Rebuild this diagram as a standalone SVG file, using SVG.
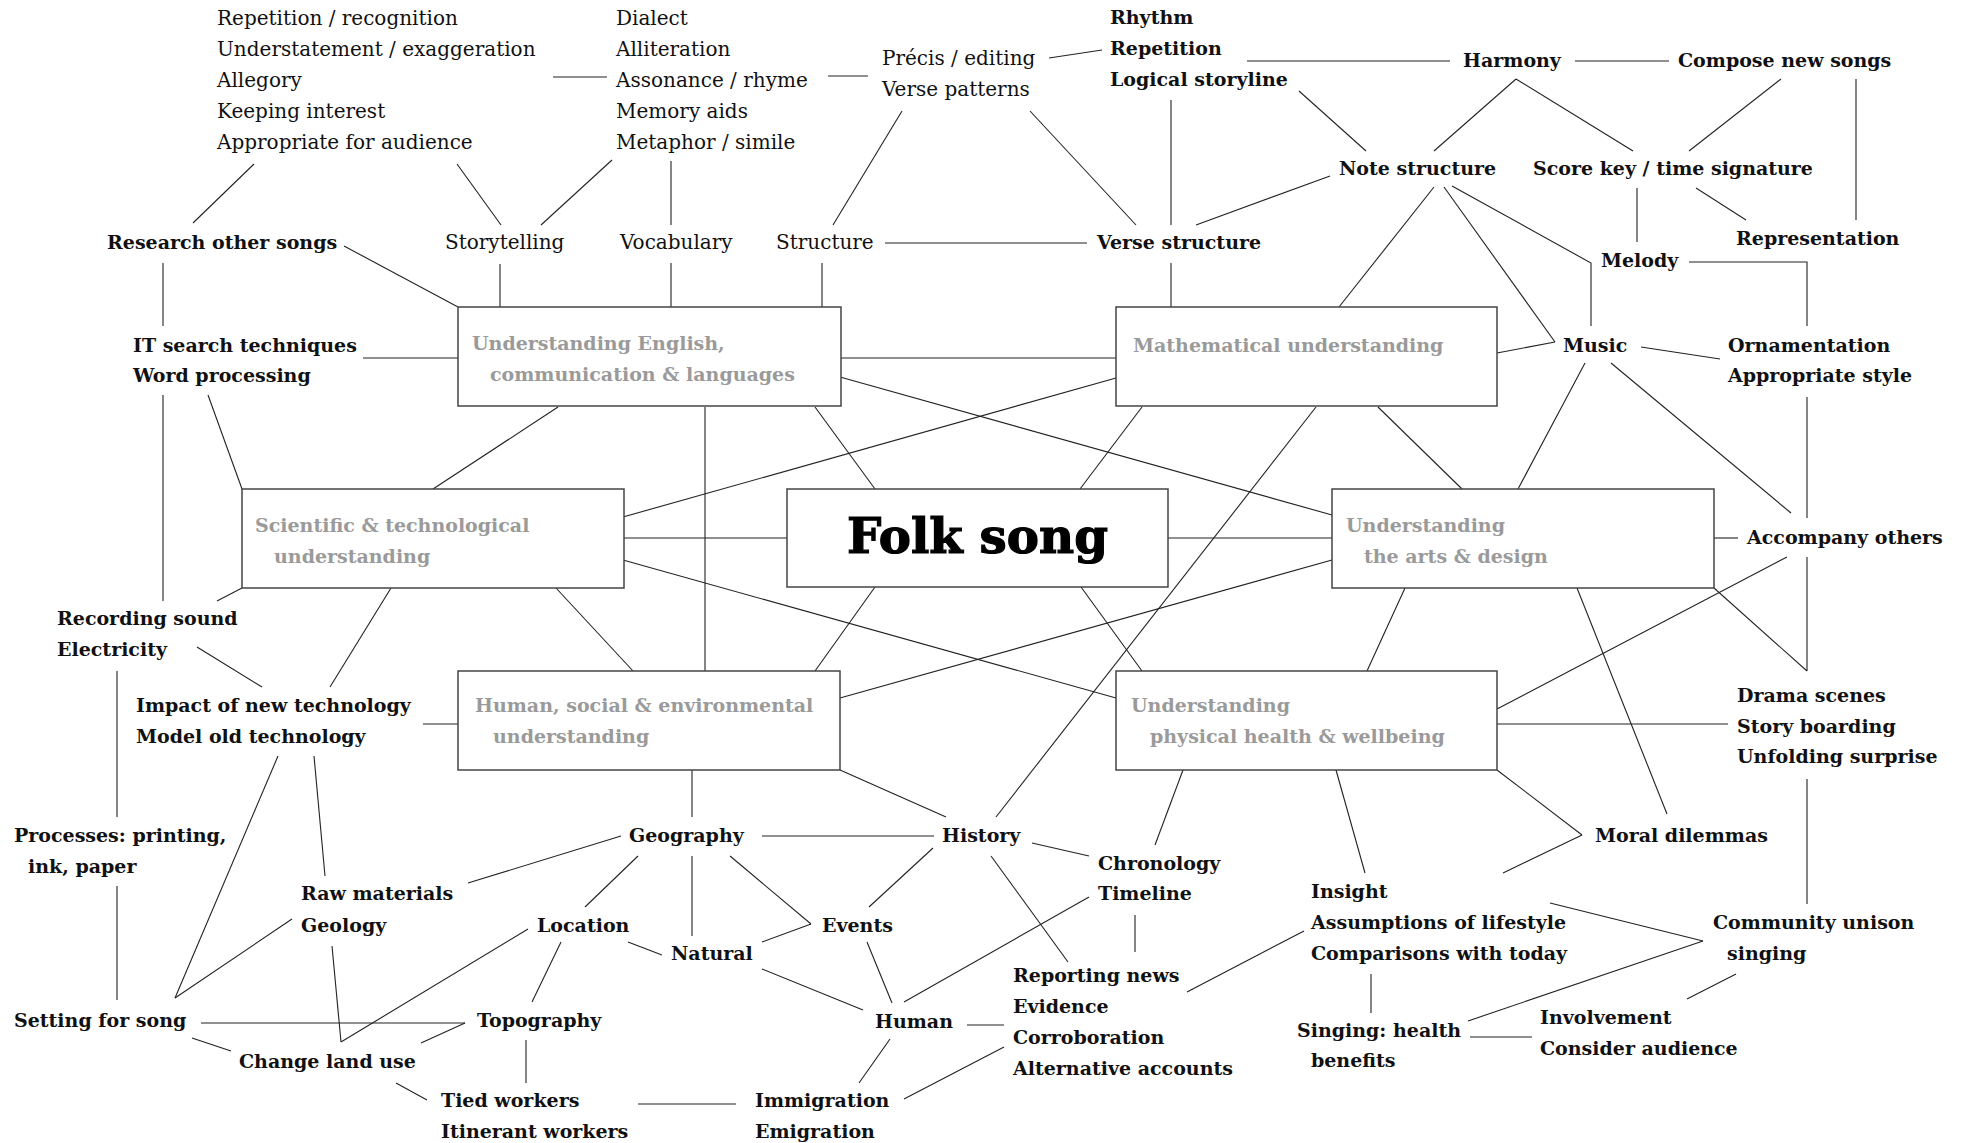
<svg xmlns="http://www.w3.org/2000/svg" width="1966" height="1143" viewBox="0 0 1966 1143">
<style>
text{font-family:"DejaVu Serif","Liberation Serif",serif;font-size:20px;fill:#111}
.b{font-weight:bold;font-size:19px}
.g{font-weight:bold;fill:#9a9a9a;font-size:19px}
.big{font-weight:900;font-size:48px;fill:#000;stroke:#000;stroke-width:1.2}
.box{fill:#fff;stroke:#444;stroke-width:1.5}
#connectors line,#connectors polyline{stroke:#222;stroke-width:1.1;fill:none}
</style>
<rect width="1966" height="1143" fill="#fff"/>
<g id="connectors">
<line x1="553" y1="77" x2="607" y2="77"/>
<line x1="828" y1="76" x2="868" y2="76"/>
<line x1="1049" y1="58" x2="1102" y2="50"/>
<line x1="1247" y1="61" x2="1450" y2="61"/>
<line x1="1575" y1="61" x2="1669" y2="61"/>
<line x1="1516" y1="79" x2="1434" y2="151"/>
<line x1="1516" y1="79" x2="1633" y2="151"/>
<line x1="1781" y1="79" x2="1689" y2="151"/>
<line x1="1856" y1="79" x2="1856" y2="220"/>
<line x1="1299" y1="91" x2="1366" y2="151"/>
<line x1="1196" y1="225" x2="1330" y2="176"/>
<line x1="1434" y1="187" x2="1339" y2="307"/>
<line x1="1444" y1="187" x2="1555" y2="342"/>
<line x1="1555" y1="342" x2="1497" y2="353"/>
<polyline points="1452,186 1591,263 1591,326"/>
<line x1="1637" y1="188" x2="1637" y2="242"/>
<line x1="1696" y1="188" x2="1746" y2="220"/>
<polyline points="1689,262 1807,262 1807,326"/>
<line x1="1641" y1="347" x2="1720" y2="359"/>
<line x1="1585" y1="363" x2="1518" y2="489"/>
<line x1="1611" y1="363" x2="1791" y2="513"/>
<line x1="1807" y1="397" x2="1807" y2="518"/>
<line x1="1714" y1="538" x2="1738" y2="538"/>
<line x1="1807" y1="557" x2="1807" y2="671"/>
<line x1="1714" y1="588" x2="1807" y2="671"/>
<line x1="1787" y1="557" x2="1497" y2="709"/>
<line x1="1577" y1="588" x2="1667" y2="814"/>
<line x1="1405" y1="588" x2="1367" y2="671"/>
<line x1="1378" y1="407" x2="1462" y2="489"/>
<line x1="1142" y1="407" x2="1080" y2="489"/>
<line x1="1316" y1="407" x2="996" y2="817"/>
<line x1="815" y1="407" x2="875" y2="489"/>
<line x1="705" y1="407" x2="705" y2="671"/>
<line x1="840" y1="358" x2="1116" y2="358"/>
<line x1="840" y1="377" x2="1332" y2="515"/>
<line x1="1116" y1="378" x2="623" y2="517"/>
<line x1="623" y1="538" x2="787" y2="538"/>
<line x1="1168" y1="538" x2="1332" y2="538"/>
<line x1="623" y1="560" x2="1116" y2="698"/>
<line x1="1332" y1="560" x2="840" y2="698"/>
<line x1="875" y1="587" x2="815" y2="671"/>
<line x1="1081" y1="587" x2="1142" y2="671"/>
<line x1="556" y1="588" x2="633" y2="671"/>
<line x1="433" y1="489" x2="558" y2="407"/>
<line x1="391" y1="588" x2="330" y2="687"/>
<line x1="208" y1="395" x2="242" y2="489"/>
<line x1="363" y1="358" x2="458" y2="358"/>
<line x1="163" y1="263" x2="163" y2="326"/>
<line x1="163" y1="395" x2="163" y2="601"/>
<line x1="242" y1="588" x2="217" y2="601"/>
<line x1="197" y1="647" x2="262" y2="687"/>
<line x1="117" y1="671" x2="117" y2="817"/>
<line x1="423" y1="724" x2="458" y2="724"/>
<line x1="117" y1="886" x2="117" y2="1000"/>
<line x1="278" y1="756" x2="175" y2="998"/>
<line x1="314" y1="756" x2="325" y2="876"/>
<line x1="292" y1="919" x2="175" y2="998"/>
<line x1="468" y1="883" x2="621" y2="836"/>
<line x1="638" y1="856" x2="585" y2="907"/>
<line x1="528" y1="929" x2="341" y2="1042"/>
<line x1="332" y1="946" x2="341" y2="1042"/>
<line x1="561" y1="942" x2="532" y2="1002"/>
<line x1="628" y1="942" x2="662" y2="955"/>
<line x1="201" y1="1023" x2="465" y2="1023"/>
<line x1="465" y1="1023" x2="421" y2="1043"/>
<line x1="192" y1="1038" x2="231" y2="1051"/>
<line x1="396" y1="1083" x2="427" y2="1100"/>
<line x1="526" y1="1040" x2="526" y2="1083"/>
<line x1="638" y1="1104" x2="736" y2="1104"/>
<line x1="762" y1="836" x2="934" y2="836"/>
<line x1="692" y1="770" x2="692" y2="817"/>
<line x1="840" y1="770" x2="946" y2="817"/>
<line x1="1183" y1="770" x2="1155" y2="845"/>
<line x1="1032" y1="843" x2="1089" y2="856"/>
<line x1="692" y1="856" x2="692" y2="936"/>
<line x1="730" y1="856" x2="811" y2="924"/>
<line x1="762" y1="942" x2="811" y2="924"/>
<line x1="933" y1="848" x2="869" y2="907"/>
<line x1="867" y1="942" x2="892" y2="1003"/>
<line x1="762" y1="969" x2="863" y2="1010"/>
<line x1="1089" y1="897" x2="904" y2="1002"/>
<line x1="991" y1="856" x2="1068" y2="962"/>
<line x1="1135" y1="915" x2="1135" y2="952"/>
<line x1="967" y1="1025" x2="1004" y2="1025"/>
<line x1="890" y1="1039" x2="859" y2="1083"/>
<line x1="1004" y1="1047" x2="904" y2="1099"/>
<line x1="1187" y1="992" x2="1304" y2="931"/>
<line x1="1497" y1="724" x2="1728" y2="724"/>
<line x1="1807" y1="779" x2="1807" y2="904"/>
<line x1="1336" y1="770" x2="1365" y2="873"/>
<line x1="1497" y1="770" x2="1582" y2="835"/>
<line x1="1582" y1="835" x2="1503" y2="873"/>
<line x1="1550" y1="903" x2="1703" y2="941"/>
<line x1="1703" y1="941" x2="1468" y2="1021"/>
<line x1="1371" y1="974" x2="1371" y2="1013"/>
<line x1="1470" y1="1037" x2="1532" y2="1037"/>
<line x1="1687" y1="999" x2="1736" y2="974"/>
<line x1="254" y1="164" x2="193" y2="223"/>
<line x1="457" y1="164" x2="501" y2="225"/>
<line x1="612" y1="160" x2="541" y2="225"/>
<line x1="671" y1="161" x2="671" y2="225"/>
<line x1="902" y1="111" x2="833" y2="225"/>
<line x1="1030" y1="111" x2="1136" y2="225"/>
<line x1="1171" y1="100" x2="1171" y2="225"/>
<line x1="885" y1="243" x2="1087" y2="243"/>
<line x1="1171" y1="263" x2="1171" y2="307"/>
<line x1="671" y1="263" x2="671" y2="307"/>
<line x1="822" y1="263" x2="822" y2="307"/>
<line x1="500" y1="264" x2="500" y2="307"/>
<line x1="344" y1="246" x2="458" y2="307"/>
</g>
<g id="b-english"><rect class="box" x="458" y="307" width="383" height="99"/><text class="g" x="472" y="350">Understanding English,</text><text class="g" x="490" y="381">communication &amp; languages</text></g>
<g id="b-math"><rect class="box" x="1116" y="307" width="381" height="99"/><text class="g" x="1133" y="352">Mathematical understanding</text></g>
<g id="b-science"><rect class="box" x="242" y="489" width="382" height="99"/><text class="g" x="255" y="532">Scientific &amp; technological</text><text class="g" x="274" y="563">understanding</text></g>
<g id="b-folk"><rect class="box" x="787" y="489" width="381" height="98"/><text class="big" x="847" y="553" textLength="261" lengthAdjust="spacingAndGlyphs">Folk song</text></g>
<g id="b-arts"><rect class="box" x="1332" y="489" width="382" height="99"/><text class="g" x="1346" y="532">Understanding</text><text class="g" x="1364" y="563">the arts &amp; design</text></g>
<g id="b-human"><rect class="box" x="458" y="671" width="382" height="99"/><text class="g" x="475" y="712">Human, social &amp; environmental</text><text class="g" x="493" y="743">understanding</text></g>
<g id="b-physical"><rect class="box" x="1116" y="671" width="381" height="99"/><text class="g" x="1131" y="712">Understanding</text><text class="g" x="1150" y="743">physical health &amp; wellbeing</text></g>

<g id="n-storytelling-list"><text x="217" y="25">Repetition / recognition</text><text x="217" y="56">Understatement / exaggeration</text><text x="217" y="87">Allegory</text><text x="217" y="118">Keeping interest</text><text x="217" y="149">Appropriate for audience</text></g>
<g id="n-vocab-list"><text x="616" y="25">Dialect</text><text x="616" y="56">Alliteration</text><text x="616" y="87">Assonance / rhyme</text><text x="616" y="118">Memory aids</text><text x="616" y="149">Metaphor / simile</text></g>
<g id="n-precis"><text x="882" y="65">Précis / editing</text><text x="882" y="96">Verse patterns</text></g>
<g id="n-rhythm"><text class="b" x="1110" y="24">Rhythm</text><text class="b" x="1110" y="55">Repetition</text><text class="b" x="1110" y="86">Logical storyline</text></g>
<g id="n-harmony"><text class="b" x="1463" y="67">Harmony</text></g>
<g id="n-compose"><text class="b" x="1678" y="67">Compose new songs</text></g>
<g id="n-note"><text class="b" x="1339" y="175">Note structure</text></g>
<g id="n-score"><text class="b" x="1533" y="175">Score key / time signature</text></g>
<g id="n-representation"><text class="b" x="1736" y="245">Representation</text></g>
<g id="n-melody"><text class="b" x="1601" y="267">Melody</text></g>
<g id="n-research"><text class="b" x="107" y="249">Research other songs</text></g>
<g id="n-storytelling"><text x="445" y="249">Storytelling</text></g>
<g id="n-vocabulary"><text x="620" y="249">Vocabulary</text></g>
<g id="n-structure"><text x="776" y="249">Structure</text></g>
<g id="n-verse"><text class="b" x="1097" y="249">Verse structure</text></g>
<g id="n-it"><text class="b" x="133" y="352">IT search techniques</text><text class="b" x="133" y="382">Word processing</text></g>
<g id="n-music"><text class="b" x="1563" y="352">Music</text></g>
<g id="n-ornamentation"><text class="b" x="1728" y="352">Ornamentation</text><text class="b" x="1728" y="382">Appropriate style</text></g>
<g id="n-accompany"><text class="b" x="1747" y="544">Accompany others</text></g>
<g id="n-recording"><text class="b" x="57" y="625">Recording sound</text><text class="b" x="57" y="656">Electricity</text></g>
<g id="n-impact"><text class="b" x="136" y="712">Impact of new technology</text><text class="b" x="136" y="743">Model old technology</text></g>
<g id="n-drama"><text class="b" x="1737" y="702">Drama scenes</text><text class="b" x="1737" y="733">Story boarding</text><text class="b" x="1737" y="763">Unfolding surprise</text></g>
<g id="n-processes"><text class="b" x="14" y="842">Processes: printing,</text><text class="b" x="28" y="873">ink, paper</text></g>
<g id="n-geography"><text class="b" x="629" y="842">Geography</text></g>
<g id="n-history"><text class="b" x="942" y="842">History</text></g>
<g id="n-chronology"><text class="b" x="1098" y="870">Chronology</text><text class="b" x="1098" y="900">Timeline</text></g>
<g id="n-moral"><text class="b" x="1595" y="842">Moral dilemmas</text></g>
<g id="n-raw"><text class="b" x="301" y="900">Raw materials</text><text class="b" x="301" y="932">Geology</text></g>
<g id="n-location"><text class="b" x="537" y="932">Location</text></g>
<g id="n-events"><text class="b" x="822" y="932">Events</text></g>
<g id="n-natural"><text class="b" x="671" y="960">Natural</text></g>
<g id="n-insight"><text class="b" x="1311" y="898">Insight</text><text class="b" x="1311" y="929">Assumptions of lifestyle</text><text class="b" x="1311" y="960">Comparisons with today</text></g>
<g id="n-community"><text class="b" x="1713" y="929">Community unison</text><text class="b" x="1727" y="960">singing</text></g>
<g id="n-reporting"><text class="b" x="1013" y="982">Reporting news</text><text class="b" x="1013" y="1013">Evidence</text><text class="b" x="1013" y="1044">Corroboration</text><text class="b" x="1013" y="1075">Alternative accounts</text></g>
<g id="n-setting"><text class="b" x="14" y="1027">Setting for song</text></g>
<g id="n-topography"><text class="b" x="477" y="1027">Topography</text></g>
<g id="n-human"><text class="b" x="875" y="1028">Human</text></g>
<g id="n-singing"><text class="b" x="1297" y="1037">Singing: health</text><text class="b" x="1311" y="1067">benefits</text></g>
<g id="n-involvement"><text class="b" x="1540" y="1024">Involvement</text><text class="b" x="1540" y="1055">Consider audience</text></g>
<g id="n-change"><text class="b" x="239" y="1068">Change land use</text></g>
<g id="n-tied"><text class="b" x="441" y="1107">Tied workers</text><text class="b" x="441" y="1138">Itinerant workers</text></g>
<g id="n-immigration"><text class="b" x="755" y="1107">Immigration</text><text class="b" x="755" y="1138">Emigration</text></g>
</svg>
